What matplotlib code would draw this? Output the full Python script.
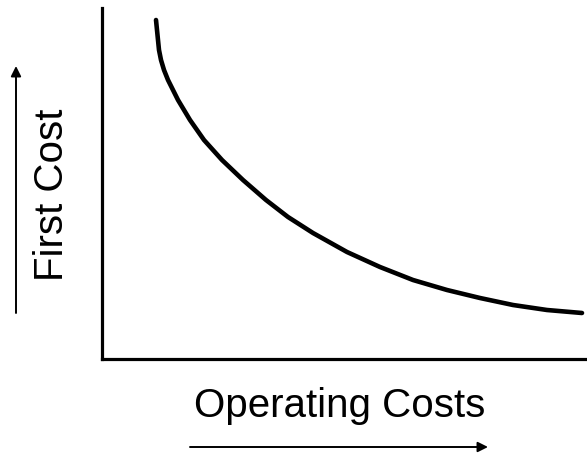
import matplotlib.pyplot as plt
from matplotlib.patches import FancyArrowPatch

# curve points (arbitrary units)
operating_cost = [54, 55, 56, 57, 59, 62, 66, 76, 88, 102, 120, 141, 164, 186,
                  211, 245, 278, 311, 345, 378, 411, 445, 480]
first_cost = [339, 329, 319, 309, 299, 289, 279, 259, 239, 219, 199, 179, 159, 142,
              126, 107, 92, 79, 69, 61, 54, 49, 46]

x_label = "Operating Costs"
y_label = "First Cost"

W, H = 587, 453
fig = plt.figure(figsize=(W / 100, H / 100), dpi=100)
plt.rcParams['font.family'] = ['Liberation Sans', 'DejaVu Sans']

ax = fig.add_axes([102 / W, (H - 359) / H, 485 / W, 351 / H])
ax.plot(operating_cost, first_cost, color='black', linewidth=3.3,
        solid_capstyle='round', solid_joinstyle='round', clip_on=False)
ax.set_xlim(0, 485)
ax.set_ylim(0, 351)
ax.set_xticks([])
ax.set_yticks([])
for side in ['top', 'right']:
    ax.spines[side].set_visible(False)
for side in ['left', 'bottom']:
    ax.spines[side].set_linewidth(2.3)
    ax.spines[side].set_capstyle('projecting')

# axis titles, placed in figure pixels
fig.text(340 / W, (H - 417) / H, x_label, fontsize=29, ha='center', va='baseline')
fig.text(52 / W, (H - 195) / H, y_label, fontsize=29, ha='center', va='center',
         rotation=90)

# direction arrows
arrow = dict(arrowstyle='-|>,head_length=0.6,head_width=0.3', mutation_scale=10,
             color='black', linewidth=1.4, shrinkA=0, shrinkB=0,
             transform=fig.transFigure)
fig.add_artist(FancyArrowPatch((190 / W, (H - 447) / H), (488 / W, (H - 447) / H), **arrow))
fig.add_artist(FancyArrowPatch((16 / W, (H - 313) / H), (16 / W, (H - 66) / H), **arrow))

fig.savefig("out.png", dpi=100)
